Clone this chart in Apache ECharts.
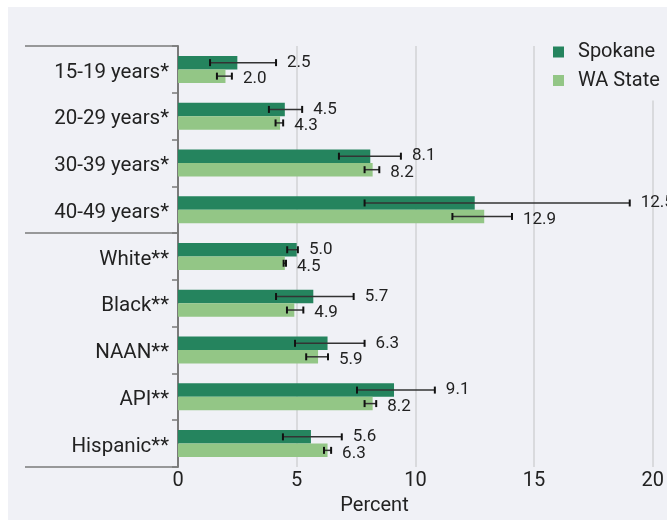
<!DOCTYPE html>
<html>
<head>
<meta charset="utf-8">
<script src="https://cdn.jsdelivr.net/npm/echarts@6/dist/echarts.min.js"></script>
<style>
  html, body { margin: 0; padding: 0; background: #ffffff; }
  #wrap { position: absolute; left: 8px; top: 7px; width: 659px; height: 513px; background: #f0f1f6; }
  #chart { width: 659px; height: 513px; }
</style>
</head>
<body>
<div id="wrap"><div id="chart"></div></div>
<script>
const categories = ['15-19 years*', '20-29 years*', '30-39 years*', '40-49 years*', 'White**', 'Black**', 'NAAN**', 'API**', 'Hispanic**'];
const spokane     = [2.5, 4.5, 8.1, 12.5, 5.0, 5.7, 6.3, 9.1, 5.6];
const spokaneLow  = [1.35, 3.83, 6.78, 7.86, 4.6, 4.13, 4.93, 7.54, 4.42];
const spokaneHigh = [4.13, 5.23, 9.39, 19.03, 5.05, 7.4, 7.86, 10.82, 6.9];
const wa          = [2.0, 4.3, 8.2, 12.9, 4.5, 4.9, 5.9, 8.2, 6.3];
const waLow       = [1.64, 4.11, 7.86, 11.56, 4.45, 4.59, 5.4, 7.86, 6.15];
const waHigh      = [2.27, 4.43, 8.48, 14.07, 4.55, 5.28, 6.32, 8.35, 6.45];
const xTicks = [0, 5, 10, 15, 20];

const FONT = 'Roboto';
const DARK = '#25845e';
const LIGHT = '#93c686';
const BAR_W = 13.5;
const GRID = { left: 170, top: 39, right: 14, bottom: 53 };
const W = 659, H = 513;
const plotH = H - GRID.top - GRID.bottom;

function errData(vals, lo, hi) {
  return vals.map((v, i) => [i, lo[i], hi[i], v]);
}

function makeRender(sign, labelDy) {
  return function (params, api) {
    const cat = api.value(0);
    const lo = api.coord([api.value(1), cat]);
    const hi = api.coord([api.value(2), cat]);
    const y = lo[1] + sign * BAR_W / 2;
    const cap = 3.5;
    return {
      type: 'group',
      children: [
        { type: 'line', shape: { x1: lo[0], y1: y, x2: hi[0], y2: y }, style: { stroke: '#333', lineWidth: 1.5 } },
        { type: 'line', shape: { x1: lo[0], y1: y - cap, x2: lo[0], y2: y + cap }, style: { stroke: '#111', lineWidth: 2 } },
        { type: 'line', shape: { x1: hi[0], y1: y - cap, x2: hi[0], y2: y + cap }, style: { stroke: '#111', lineWidth: 2 } },
        { type: 'text', x: hi[0] + 11, y: y + labelDy,
          style: { text: api.value(3).toFixed(1), fill: '#222', font: '17px ' + FONT, align: 'left', verticalAlign: 'middle' } }
      ]
    };
  };
}

const chart = echarts.init(document.getElementById('chart'), null, { renderer: 'canvas' });
const lineStyle = { stroke: '#7a7a7a', lineWidth: 1.5 };
const option = {
  backgroundColor: 'transparent',
  animation: false,
  textStyle: { fontFamily: FONT },
  grid: { left: GRID.left, top: GRID.top, right: GRID.right, bottom: GRID.bottom, containLabel: false },
  legend: {
    orient: 'vertical',
    left: 537, top: 25,
    padding: [10, 12, 10, 8],
    itemGap: 8.5,
    itemWidth: 11, itemHeight: 11,
    icon: 'rect',
    backgroundColor: '#f0f1f6',
    textStyle: { fontSize: 20, color: '#222', fontFamily: FONT, padding: [0, 0, 0, 9] },
    data: ['Spokane', 'WA State']
  },
  xAxis: {
    type: 'value',
    min: 0, max: 20, interval: 5,
    axisLine: { show: false },
    axisTick: { show: false },
    axisLabel: { fontSize: 20, color: '#222', margin: 4, fontFamily: FONT,
      formatter: v => xTicks.includes(v) ? String(v) : '' },
    splitLine: { show: true, lineStyle: { color: '#d2d2d4', width: 1.5 } }
  },
  yAxis: {
    type: 'category',
    inverse: true,
    data: categories,
    axisLine: { show: true, lineStyle: { color: '#7a7a7a', width: 2 } },
    axisTick: { show: true, length: 6, lineStyle: { color: '#7a7a7a', width: 1.5 } },
    axisLabel: { margin: 9,
      formatter: v => '{c|' + v + '}',
      rich: { c: { fontSize: 20.5, color: '#222', fontFamily: FONT, padding: [6, 0, 0, 0] } } }
  },
  graphic: [
    { type: 'line', z: 10, shape: { x1: 17, y1: GRID.top, x2: GRID.left, y2: GRID.top }, style: lineStyle },
    { type: 'line', z: 10, shape: { x1: 17, y1: GRID.top + plotH * 4 / 9, x2: GRID.left, y2: GRID.top + plotH * 4 / 9 }, style: lineStyle },
    { type: 'line', z: 10, shape: { x1: 17, y1: GRID.top + plotH, x2: GRID.left, y2: GRID.top + plotH }, style: lineStyle },
    { type: 'text', z: 10, x: 366.5, y: 499,
      style: { text: 'Percent', fill: '#222', font: '20px ' + FONT, align: 'center', verticalAlign: 'middle' } }
  ],
  series: [
    { name: 'Spokane', type: 'bar', data: spokane, barWidth: BAR_W, barGap: '0%', itemStyle: { color: DARK }, z: 2 },
    { name: 'WA State', type: 'bar', data: wa, barWidth: BAR_W, barGap: '0%', itemStyle: { color: LIGHT }, z: 2 },
    { type: 'custom', name: 'spokaneErr', data: errData(spokane, spokaneLow, spokaneHigh), renderItem: makeRender(-1, 0),
      encode: { x: [1, 2], y: 0 }, z: 5, clip: false, silent: true },
    { type: 'custom', name: 'waErr', data: errData(wa, waLow, waHigh), renderItem: makeRender(1, 3),
      encode: { x: [1, 2], y: 0 }, z: 5, clip: false, silent: true }
  ]
};
chart.setOption(option);
</script>
</body>
</html>
